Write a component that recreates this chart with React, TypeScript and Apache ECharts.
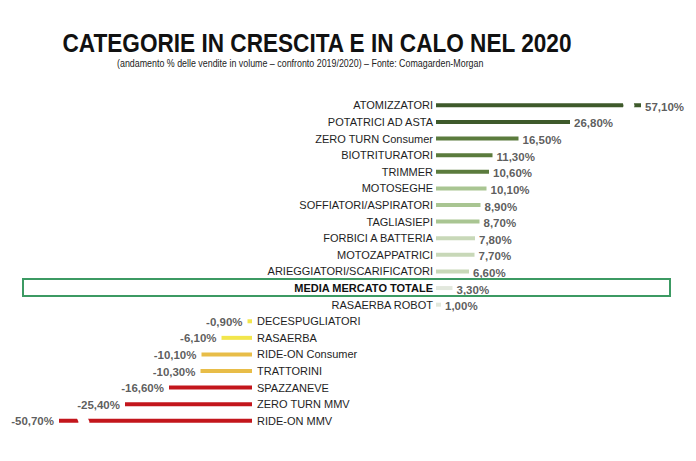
import React, { useEffect, useRef } from "react";
import * as echarts from "echarts";

const titleText = "CATEGORIE IN CRESCITA E IN CALO NEL 2020";
const subtitleText =
  "(andamento % delle vendite in volume \u2013 confronto 2019/2020) \u2013 Fonte: Comagarden-Morgan";

const posCategories = [
  "ATOMIZZATORI",
  "POTATRICI AD ASTA",
  "ZERO TURN Consumer",
  "BIOTRITURATORI",
  "TRIMMER",
  "MOTOSEGHE",
  "SOFFIATORI/ASPIRATORI",
  "TAGLIASIEPI",
  "FORBICI A BATTERIA",
  "MOTOZAPPATRICI",
  "ARIEGGIATORI/SCARIFICATORI",
  "MEDIA MERCATO TOTALE",
  "RASAERBA ROBOT",
];
const posValues = [57.1, 26.8, 16.5, 11.3, 10.6, 10.1, 8.9, 8.7, 7.8, 7.7, 6.6, 3.3, 1.0];
const posColors = [
  "#3e5a2b", "#3e5a2b", "#5b7b3d", "#5b7b3d", "#5b7b3d",
  "#a9c592", "#a9c592", "#a9c592", "#c8d8b8", "#c8d8b8", "#c8d8b8",
  "#e2e8dd", "#e2e8dd",
];

const negCategories = [
  "DECESPUGLIATORI",
  "RASAERBA",
  "RIDE-ON Consumer",
  "TRATTORINI",
  "SPAZZANEVE",
  "ZERO TURN MMV",
  "RIDE-ON MMV",
];
const negValues = [-0.9, -6.1, -10.1, -10.3, -16.6, -25.4, -50.7];
const negColors = ["#f2e64c", "#f2e64c", "#e8bd48", "#e8bd48", "#c3161c", "#c3161c", "#c3161c"];

const highlightCategory = "MEDIA MERCATO TOTALE";

const FONT = "'Liberation Sans', Arial, sans-serif";

const fmt = (v: number) => v.toFixed(2).replace(".", ",") + "%";

export default function App() {
  const ref = useRef<HTMLDivElement>(null);

  useEffect(() => {
    if (!ref.current) return;
    const chart = echarts.init(ref.current, null, { renderer: "svg" });

    const breakArea = {
      show: true,
      itemStyle: { color: "#ffffff", borderColor: "#ffffff", borderWidth: 0, opacity: 1 },
      zigzagAmplitude: 2,
      zigzagZ: 200,
      expandOnClick: false,
    };

    const valueLabel = {
      show: true,
      fontFamily: FONT,
      fontWeight: "bold" as const,
      fontSize: 11.5,
      color: "#333",
      formatter: (p: any) => fmt(p.value),
    };

    const option: any = {
      animation: false,
      backgroundColor: "#ffffff",
      grid: [
        { left: 436, right: 55, top: 97, height: 216, containLabel: false },
        { left: 59, right: 444, top: 313, height: 116, containLabel: false },
      ],
      xAxis: [
        {
          gridIndex: 0,
          type: "value",
          min: 0,
          max: 57.1,
          breaks: [{ start: 37, end: 55.3, gap: 2.2 }],
          breakArea,
          axisLine: { show: false },
          axisTick: { show: false },
          axisLabel: { show: false },
          splitLine: { show: false },
        },
        {
          gridIndex: 1,
          type: "value",
          min: -50.7,
          max: 0,
          breaks: [{ start: -47.3, end: -33, gap: 2.2 }],
          breakArea,
          axisLine: { show: false },
          axisTick: { show: false },
          axisLabel: { show: false },
          splitLine: { show: false },
        },
      ],
      yAxis: [
        {
          gridIndex: 0,
          type: "category",
          data: posCategories,
          inverse: true,
          axisLine: { show: false },
          axisTick: { show: false },
          splitLine: { show: false },
          axisLabel: {
            fontFamily: FONT,
            fontSize: 11,
            color: "#1e1e1e",
            margin: 3,
            formatter: (v: string) => (v === highlightCategory ? "{b|" + v + "}" : v),
            rich: { b: { fontFamily: FONT, fontWeight: "bold", fontSize: 11, color: "#111" } },
          },
        },
        {
          gridIndex: 1,
          type: "category",
          data: negCategories,
          inverse: true,
          position: "right",
          axisLine: { show: false },
          axisTick: { show: false },
          splitLine: { show: false },
          axisLabel: { fontFamily: FONT, fontSize: 11, color: "#1e1e1e", margin: 5 },
        },
      ],
      series: [
        {
          type: "bar",
          xAxisIndex: 0,
          yAxisIndex: 0,
          barWidth: 4,
          data: posValues.map((v, i) => ({ value: v, itemStyle: { color: posColors[i] } })),
        },
        {
          type: "bar",
          xAxisIndex: 1,
          yAxisIndex: 1,
          barWidth: 4,
          data: negValues.map((v, i) => ({ value: v, itemStyle: { color: negColors[i] } })),
        },
        {
          type: "scatter",
          xAxisIndex: 0,
          yAxisIndex: 0,
          symbolSize: 0,
          z: 300,
          silent: true,
          data: posValues,
          label: { ...valueLabel, position: "right", distance: 4, offset: [0, 1.5] },
        },
        {
          type: "scatter",
          xAxisIndex: 1,
          yAxisIndex: 1,
          symbolSize: 0,
          z: 300,
          silent: true,
          data: negValues,
          label: { ...valueLabel, position: "left", distance: 5, offset: [0, 0.5] },
        },
      ],
      graphic: [
        {
          type: "text",
          x: 62.5,
          y: 43,
          scaleX: 0.904,
          silent: true,
          style: {
            text: titleText,
            fontFamily: FONT,
            fontWeight: "bold",
            fontSize: 25,
            fill: "#111",
            align: "left",
            verticalAlign: "middle",
          },
        },
        {
          type: "text",
          x: 117,
          y: 63,
          scaleX: 0.845,
          silent: true,
          style: {
            text: subtitleText,
            fontFamily: FONT,
            fontSize: 10.5,
            fill: "#222",
            align: "left",
            verticalAlign: "middle",
          },
        },
        {
          type: "rect",
          z: 400,
          silent: true,
          shape: { x: 23, y: 279, width: 647, height: 17 },
          style: { fill: "none", stroke: "#3c9a63", lineWidth: 2 },
        },
      ],
    };

    chart.setOption(option);
    return () => chart.dispose();
  }, []);

  return (
    <div
      ref={ref}
      style={{ position: "absolute", left: 0, top: 0, width: 696, height: 461 }}
    />
  );
}
